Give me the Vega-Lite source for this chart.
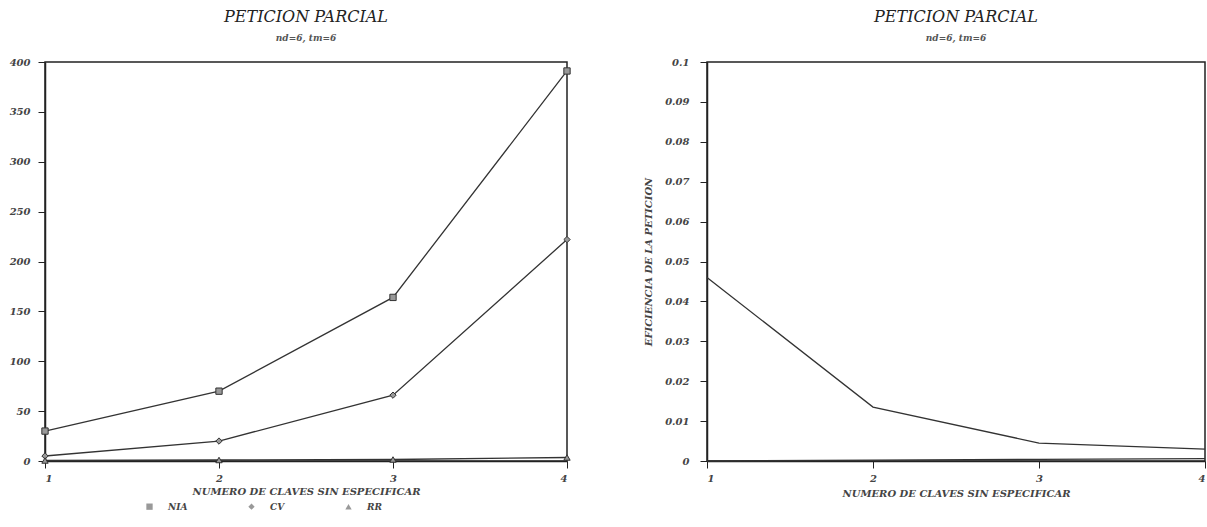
{
  "$schema": "https://vega.github.io/schema/vega-lite/v6.json",
  "background": "white",
  "padding": {"left": 8, "top": 8, "right": 3, "bottom": 2},
  "spacing": 69,
  "datasets": {
    "izq": [
      {"n": 1, "serie": "NIA", "valor": 30},
      {"n": 2, "serie": "NIA", "valor": 70},
      {"n": 3, "serie": "NIA", "valor": 164},
      {"n": 4, "serie": "NIA", "valor": 391},
      {"n": 1, "serie": "CV", "valor": 5},
      {"n": 2, "serie": "CV", "valor": 20},
      {"n": 3, "serie": "CV", "valor": 66},
      {"n": 4, "serie": "CV", "valor": 222},
      {"n": 1, "serie": "RR", "valor": 0.5},
      {"n": 2, "serie": "RR", "valor": 1},
      {"n": 3, "serie": "RR", "valor": 1.5},
      {"n": 4, "serie": "RR", "valor": 3.5}
    ],
    "der": [
      {"n": 1, "serie": "E1", "eficiencia": 0.046},
      {"n": 2, "serie": "E1", "eficiencia": 0.0135},
      {"n": 3, "serie": "E1", "eficiencia": 0.0045},
      {"n": 4, "serie": "E1", "eficiencia": 0.003},
      {"n": 1, "serie": "E2", "eficiencia": 0.0},
      {"n": 2, "serie": "E2", "eficiencia": 0.0002},
      {"n": 3, "serie": "E2", "eficiencia": 0.0004},
      {"n": 4, "serie": "E2", "eficiencia": 0.0006}
    ]
  },
  "config": {
    "font": "DejaVu Serif",
    "view": {"stroke": "#222", "strokeWidth": 1.5},
    "axis": {
      "grid": false,
      "domainColor": "#222",
      "domainWidth": 1.5,
      "tickColor": "#222",
      "tickSize": 7,
      "labelFont": "DejaVu Serif",
      "labelFontStyle": "italic",
      "labelFontWeight": "bold",
      "labelFontSize": 10,
      "labelColor": "#444",
      "titleFont": "DejaVu Serif",
      "titleFontStyle": "italic",
      "titleFontWeight": "bold",
      "titleFontSize": 10,
      "titleColor": "#444"
    },
    "title": {
      "font": "DejaVu Serif",
      "fontStyle": "italic",
      "fontWeight": "normal",
      "fontSize": 16,
      "color": "#222",
      "subtitleFont": "DejaVu Serif",
      "subtitleFontStyle": "italic",
      "subtitleFontWeight": "bold",
      "subtitleFontSize": 9,
      "subtitleColor": "#555",
      "subtitlePadding": 9,
      "offset": 14,
      "anchor": "middle"
    }
  },
  "hconcat": [
    {
      "width": 522,
      "height": 399,
      "title": {"text": "PETICION PARCIAL", "subtitle": "nd=6, tm=6"},
      "data": {"name": "izq"},
      "encoding": {
        "x": {
          "field": "n", "type": "quantitative",
          "scale": {"domain": [1, 4], "nice": false, "zero": false},
          "axis": {"values": [1, 2, 3, 4], "format": "d", "title": "NUMERO DE CLAVES SIN ESPECIFICAR", "labelPadding": 5, "titlePadding": 3}
        },
        "y": {
          "field": "valor", "type": "quantitative",
          "scale": {"domain": [0, 400], "nice": false},
          "axis": {"values": [0, 50, 100, 150, 200, 250, 300, 350, 400], "title": null, "labelPadding": 8}
        }
      },
      "layer": [
        {
          "mark": {"type": "line", "color": "#333", "strokeWidth": 1.3},
          "encoding": {"detail": {"field": "serie"}}
        },
        {
          "mark": {"type": "point", "filled": true, "stroke": "#333", "strokeWidth": 1, "size": 40, "opacity": 1},
          "encoding": {
            "fill": {"value": "#999"},
            "shape": {
              "field": "serie", "type": "nominal",
              "scale": {"domain": ["NIA", "CV", "RR"], "range": ["square", "diamond", "triangle-up"]},
              "legend": {
                "title": null,
                "orient": "none",
                "direction": "horizontal",
                "legendX": 100,
                "legendY": 440,
                "columnPadding": 58,
                "symbolSize": 40,
                "symbolFillColor": "white",
                "symbolStrokeColor": "#333",
                "symbolStrokeWidth": 1,
                "labelFont": "DejaVu Serif",
                "labelFontStyle": "italic",
                "labelFontWeight": "bold",
                "labelFontSize": 9,
                "labelColor": "#444",
                "labelOffset": 14,
                "encode": {
                  "symbols": {
                    "update": {"fill": {"value": "white"}, "stroke": {"value": "#333"}}
                  }
                }
              }
            }
          }
        }
      ]
    },
    {
      "width": 498,
      "height": 399,
      "title": {"text": "PETICION PARCIAL", "subtitle": "nd=6, tm=6"},
      "data": {"name": "der"},
      "mark": {"type": "line", "color": "#333", "strokeWidth": 1.3},
      "encoding": {
        "x": {
          "field": "n", "type": "quantitative",
          "scale": {"domain": [1, 4], "nice": false, "zero": false},
          "axis": {"values": [1, 2, 3, 4], "format": "d", "title": "NUMERO DE CLAVES SIN ESPECIFICAR", "labelPadding": 5, "titlePadding": 5}
        },
        "y": {
          "field": "eficiencia", "type": "quantitative",
          "scale": {"domain": [0, 0.1], "nice": false},
          "axis": {"values": [0, 0.01, 0.02, 0.03, 0.04, 0.05, 0.06, 0.07, 0.08, 0.09, 0.1], "format": ".2~f", "title": "EFICIENCIA DE LA PETICION", "labelPadding": 11, "titlePadding": 11}
        },
        "detail": {"field": "serie"}
      }
    }
  ]
}
